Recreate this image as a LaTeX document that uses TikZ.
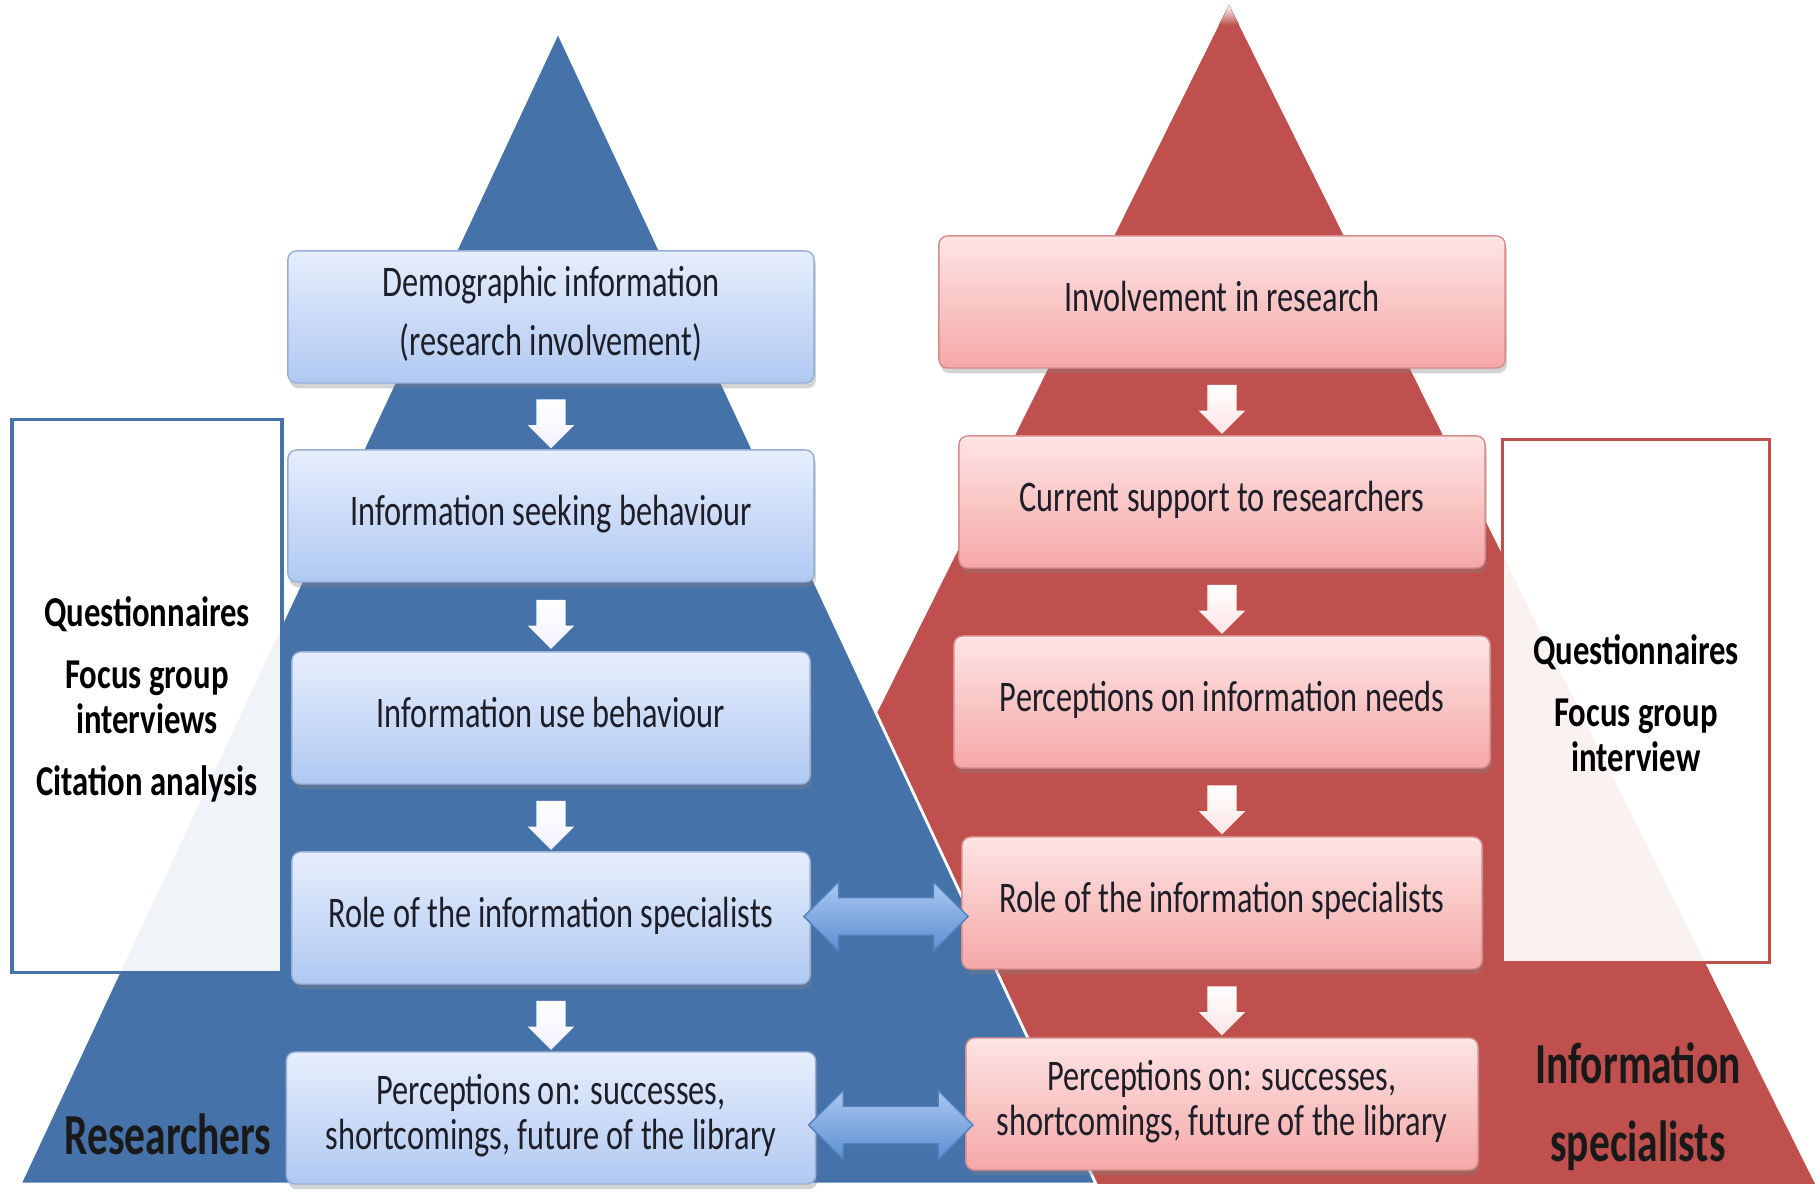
\documentclass[tikz,border=0pt]{standalone}
\usepackage{fontspec}
\setmainfont{Carlito}
\usetikzlibrary{shapes.arrows,shadows,calc}

\definecolor{resblue}{RGB}{70,114,170}
\definecolor{isred}{RGB}{192,80,77}
\definecolor{bluetop}{RGB}{230,238,252}
\definecolor{bluebot}{RGB}{176,201,242}
\definecolor{blueline}{RGB}{150,175,214}
\definecolor{redtop}{RGB}{253,228,228}
\definecolor{redbot}{RGB}{245,168,167}
\definecolor{redline}{RGB}{214,140,138}
\definecolor{linktop}{RGB}{170,200,240}
\definecolor{linkbot}{RGB}{92,142,210}
\definecolor{linkline}{RGB}{79,129,189}
\definecolor{textdark}{RGB}{30,30,40}

\newcommand{\boxtext}[1]{\scalebox{1}[1.35]{\begin{tabular}{@{}c@{}}#1\end{tabular}}}
\newcommand{\methtext}[1]{\scalebox{1}[1.3]{\begin{tabular}{@{}c@{}}#1\end{tabular}}}

\begin{document}
\begin{tikzpicture}
[x=0.01cm,y=-0.01cm,
  resBox/.style={draw=blueline,rounded corners=2.5pt,top color=bluetop,bottom color=bluebot,
    drop shadow={shadow xshift=0.5pt,shadow yshift=-1.5pt,opacity=0.35},
    minimum height=1.32cm,inner sep=0pt,text=textdark,font=\fontsize{9.2}{9.5}\selectfont},
  isBox/.style={resBox,draw=redline,top color=redtop,bottom color=redbot},
  methBox/.style={fill=white,fill opacity=0.92,line width=1pt,inner sep=0pt},
  methText/.style={inner sep=0pt,font=\fontsize{9.3}{9.8}\selectfont\bfseries},
  stepArrow/.style={single arrow,shape border rotate=270,minimum height=0.49cm,
    inner xsep=0.14cm,inner ysep=0pt,single arrow head extend=0.085cm},
  linkArrow/.style={double arrow,minimum height=1.64cm,inner xsep=0pt,inner ysep=0.18cm,
    double arrow head extend=0.16cm,draw=linkline,thin,
    top color=linktop,bottom color=linkbot},
  groupLabel/.style={font=\fontsize{11.8}{15.8}\selectfont\bfseries,text=black!90,inner sep=0pt}]
\useasboundingbox (0,0) rectangle (1820,1192);
%% pyramids
\fill[isred] (1229,5) -- (1815,1184) -- (643,1184) -- cycle;
\fill[top color=white,bottom color=isred,shading angle=0] (1229,5) -- (1239,25) -- (1219,25) -- cycle;
\filldraw[fill=resblue,draw=white,line width=0.8pt] (558,32) -- (1096,1184) -- (20,1184) -- cycle;
%% methods
\node[methBox,draw=resblue,minimum width=2.70cm,minimum height=5.53cm] (resmeth) at (147,696) {};
\node[methText] (resmethtext) at (147,702)
  {\methtext{Questionnaires\\[3.7pt]Focus group\\interviews\\[3.7pt]Citation analysis}};
\node[methBox,draw=isred,minimum width=2.67cm,minimum height=5.23cm] (ismeth) at (1636,701) {};
\node[methText] (ismethtext) at (1636,709)
  {\methtext{Questionnaires\\[3.7pt]Focus group\\interview}};
%% researchers
\foreach \i/\y/\w/\txt in {
  1/317/5.26/{Demographic information\\[3pt](research involvement)},
  2/516/5.26/{Information seeking behaviour},
  3/718/5.18/{Information use behaviour},
  4/918/5.18/{Role of the information specialists},
  5/1118/5.29/{Perceptions on: successes,\\shortcomings, future of the library}}
{
  \node[resBox,minimum width=\w cm] (res\i) at (551,\y) {\boxtext{\txt}};
}
%% information specialists
\foreach \i/\y/\w/\txt in {
  1/302/5.66/{Involvement in research},
  2/502/5.26/{Current support to researchers},
  3/702/5.36/{Perceptions on information needs},
  4/903/5.20/{Role of the information specialists},
  5/1104/5.12/{Perceptions on: successes,\\shortcomings, future of the library}}
{
  \node[isBox,minimum width=\w cm] (is\i) at (1222,\y) {\boxtext{\txt}};
}
%% steps
\foreach \a/\b in {1/2,2/3,3/4,4/5}
{
  \node[stepArrow,top color=white,bottom color=bluetop!85!blue!25] (resstep\a) at ($(res\a.south)!0.5!(res\b.north)$) {};
  \node[stepArrow,top color=white,bottom color=redtop] (isstep\a) at ($(is\a.south)!0.5!(is\b.north)$) {};
}
%% links
\node[linkArrow] (link4) at ($($(res4.east)!0.5!(is4.west)$)+(0,6)$) {};
\node[linkArrow] (link5) at ($($(res5.east)!0.5!(is5.west)$)+(0,14)$) {};
%% group names
\node[groupLabel] (reslabel) at (168,1134) {\scalebox{1}[1.4]{Researchers}};
\node[groupLabel] (islabel) at (1638,1107)
  {\scalebox{1}[1.4]{\begin{tabular}{@{}c@{}}Information\\specialists\end{tabular}}};
\end{tikzpicture}
\end{document}
